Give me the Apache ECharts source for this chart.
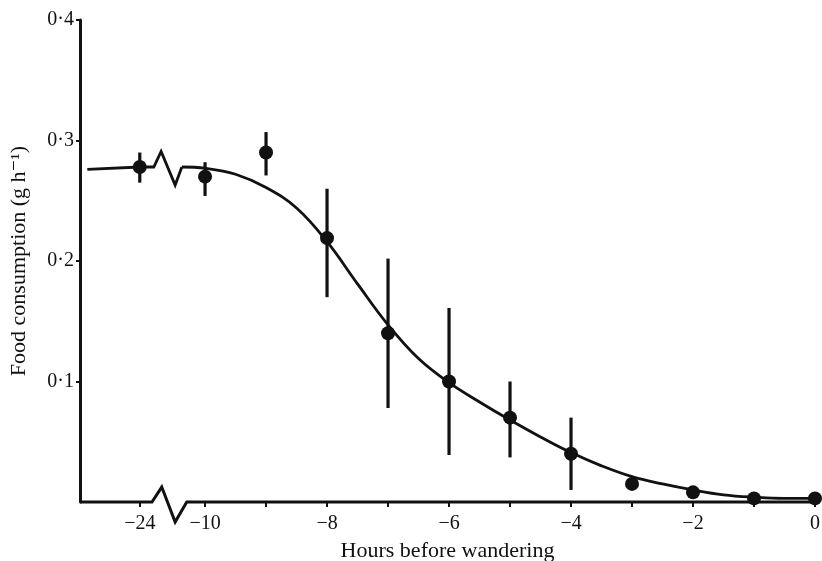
<!DOCTYPE html>
<html>
<head>
<meta charset="utf-8">
<script src="https://cdn.jsdelivr.net/npm/echarts@6/dist/echarts.min.js"></script>
<style>
  html, body { margin: 0; padding: 0; background: #fff; }
  #chart { width: 822px; height: 561px; }
</style>
</head>
<body>
<div id="chart"></div>
<script>
// Hours before wandering at which food consumption was measured
const hours = [-24, -10, -9, -8, -7, -6, -5, -4, -3, -2, -1, 0];
// Mean food consumption (g h^-1)
const meanRate = [0.278, 0.270, 0.290, 0.219, 0.140, 0.100, 0.070, 0.040, 0.015, 0.008, 0.003, 0.003];
// Error bar limits (null where the bar is hidden by the dot)
const errLow  = [0.265, 0.254, 0.271, 0.170, 0.078, 0.039, 0.037, 0.010, null, null, null, null];
const errHigh = [0.290, 0.282, 0.307, 0.260, 0.202, 0.161, 0.100, 0.070, null, null, null, null];

// Fitted curve, x in plotted axis units (the -24 h point sits left of the break)
const curveBeforeBreakX = [-11.93, -11.07, -10.84];
const curveBeforeBreakY = [0.276, 0.278, 0.278];
const curveAfterBreakX = [-10.38, -10, -9.5, -9, -8.5, -8, -7.5, -7, -6.5, -6, -5.5,
                          -5, -4.5, -4, -3.5, -3, -2.5, -2, -1.5, -1, -0.5, 0];
const curveAfterBreakY = [0.278, 0.277, 0.272, 0.261, 0.244, 0.216, 0.181, 0.147, 0.119, 0.099, 0.083,
                          0.068, 0.054, 0.041, 0.030, 0.021, 0.015, 0.010, 0.006, 0.004, 0.003, 0.003];

// Tick labels
const xTickHours = [-24, -10, -8, -6, -4, -2, 0];
const xMinorHours = [-24, -10, -9, -8, -7, -6, -5, -4, -3, -2, -1, 0];
const yTickValues = [0.1, 0.2, 0.3, 0.4];

// Broken time axis: -24 h is drawn one step left of -10 h
const BREAK_POS = -11.07;
const X_MIN = -12.05;
const toAxis = h => (h === -24 ? BREAK_POS : h);
const fromAxis = v => (Math.abs(v - BREAK_POS) < 1e-6 ? -24 : v);

const INK = '#111';
const SERIF = '"Liberation Serif", "DejaVu Serif", serif';

// Zigzag break mark on a horizontal line at height baseY
function zigzag(baseY, up, down) {
  return [
    [-10.87, baseY],
    [-10.71, baseY + up],
    [-10.49, baseY - down],
    [-10.30, baseY]
  ];
}

const points = hours.map((h, i) => [toAxis(h), meanRate[i]]);
const bars = hours
  .map((h, i) => [toAxis(h), errLow[i], errHigh[i]])
  .filter(d => d[1] != null);

const xAxisLine = [[X_MIN, 0]].concat(zigzag(0, 0.0124, 0.0166)).concat([[0.05, 0]]);
const curveLeft = curveBeforeBreakX.map((x, i) => [x, curveBeforeBreakY[i]])
  .concat([[-10.72, 0.291], [-10.49, 0.263], [curveAfterBreakX[0], curveAfterBreakY[0]]]);
const curveRight = curveAfterBreakX.map((x, i) => [x, curveAfterBreakY[i]]);

const chart = echarts.init(document.getElementById('chart'));
chart.setOption({
  animation: false,
  backgroundColor: '#fff',
  grid: { left: 80, right: 7, top: 20, bottom: 59, containLabel: false, outerBoundsMode: 'none' },
  xAxis: {
    type: 'value',
    min: X_MIN,
    max: 0,
    name: 'Hours before wandering',
    nameLocation: 'middle',
    nameGap: 38,
    nameTextStyle: { fontFamily: SERIF, fontSize: 22, color: INK },
    axisLine: { show: false, onZero: false },
    splitLine: { show: false },
    axisTick: {
      show: true,
      inside: false,
      length: 5,
      customValues: xMinorHours.map(toAxis),
      lineStyle: { color: INK, width: 2 }
    },
    axisLabel: {
      customValues: xTickHours.map(toAxis),
      margin: 12,
      fontFamily: SERIF,
      fontSize: 20,
      color: INK,
      formatter: v => {
        const h = fromAxis(v);
        return h === 0 ? '0' : '\u2212' + Math.abs(Math.round(h));
      }
    }
  },
  yAxis: {
    type: 'value',
    min: 0,
    max: 0.4,
    interval: 0.1,
    name: 'Food consumption (g h\u207B\u00B9)',
    nameLocation: 'middle',
    nameGap: 50,
    nameRotate: 90,
    nameTextStyle: { fontFamily: SERIF, fontSize: 22, color: INK },
    axisLine: { show: true, onZero: false, lineStyle: { color: INK, width: 3 } },
    splitLine: { show: false },
    axisTick: {
      show: true,
      inside: false,
      length: 4,
      customValues: yTickValues,
      lineStyle: { color: INK, width: 2 }
    },
    axisLabel: {
      margin: 6,
      customValues: yTickValues,
      fontFamily: SERIF,
      fontSize: 20,
      color: INK,
      formatter: v => v.toFixed(1).replace('.', '\u00B7')
    }
  },
  series: [
    {
      // time axis drawn with its break mark
      type: 'line',
      data: xAxisLine,
      clip: false,
      silent: true,
      symbol: 'none',
      lineStyle: { color: INK, width: 3, join: 'miter' },
      z: 1
    },
    {
      type: 'line',
      data: curveLeft,
      clip: false,
      symbol: 'none',
      lineStyle: { color: INK, width: 2.8, join: 'miter' },
      z: 2
    },
    {
      type: 'line',
      data: curveRight,
      smooth: 0.4,
      clip: false,
      symbol: 'none',
      lineStyle: { color: INK, width: 2.8 },
      z: 2
    },
    {
      type: 'custom',
      data: bars,
      clip: false,
      renderItem: (params, api) => {
        const lo = api.coord([api.value(0), api.value(1)]);
        const hi = api.coord([api.value(0), api.value(2)]);
        return {
          type: 'line',
          shape: { x1: lo[0], y1: lo[1], x2: hi[0], y2: hi[1] },
          style: { stroke: INK, lineWidth: 3.2 }
        };
      },
      z: 3
    },
    {
      type: 'scatter',
      data: points,
      clip: false,
      symbol: 'circle',
      symbolSize: 14,
      itemStyle: { color: INK, opacity: 1 },
      z: 4
    }
  ]
});
</script>
</body>
</html>
